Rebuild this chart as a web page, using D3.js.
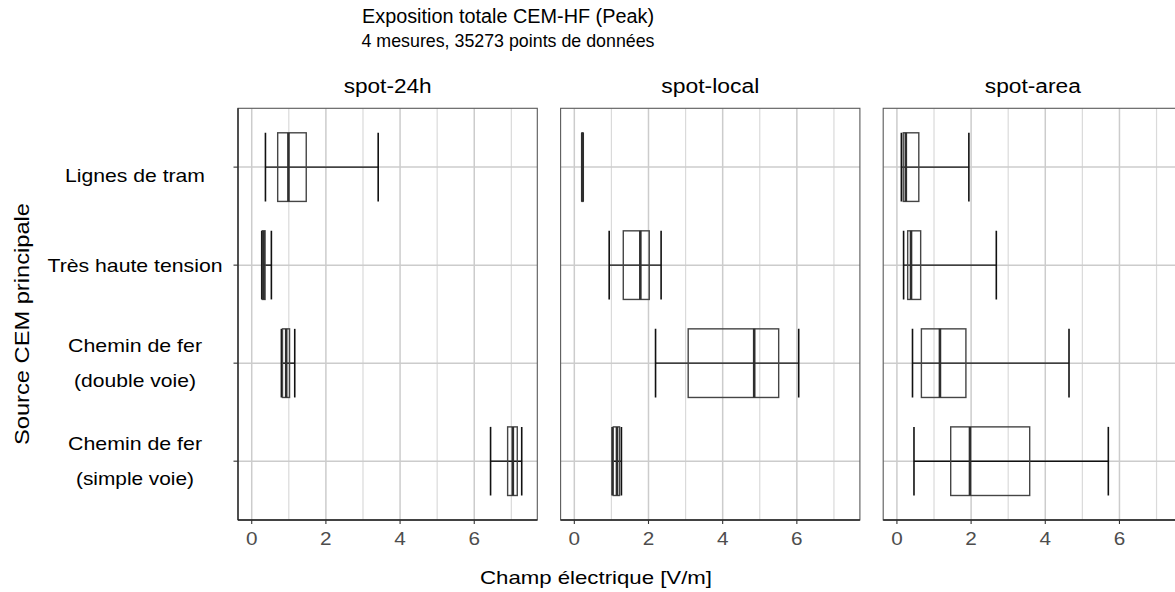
<!DOCTYPE html>
<html>
<head>
<meta charset="utf-8">
<script src="https://cdn.jsdelivr.net/npm/d3@7"></script>
<style>
  html, body { margin: 0; padding: 0; background: #fff; }
  svg { display: block; font-family: "Liberation Sans", Arial, sans-serif; }
</style>
</head>
<body>
<svg id="chart" width="1175" height="592"></svg>
<script>
// Categories (top to bottom), each label split into lines
const sources = ["Lignes de tram", "Très haute tension", "Chemin de fer (double voie)", "Chemin de fer (simple voie)"];
const sourceLines = [["Lignes de tram"], ["Très haute tension"], ["Chemin de fer", "(double voie)"], ["Chemin de fer", "(simple voie)"]];

// Facets
const facets = ["spot-24h", "spot-local", "spot-area"];

// Five-number summaries per source: [whisker low, Q1, median, Q3, whisker high] in V/m
const spot24h = [
  [0.37, 0.70, 0.99, 1.47, 3.41],
  [0.27, 0.29, 0.32, 0.36, 0.53],
  [0.80, 0.83, 0.93, 1.02, 1.16],
  [6.44, 6.90, 7.04, 7.16, 7.28]
];
const spotLocal = [
  [0.20, 0.21, 0.22, 0.23, 0.24],
  [0.94, 1.32, 1.78, 2.02, 2.34],
  [2.19, 3.07, 4.85, 5.51, 6.05],
  [1.02, 1.05, 1.15, 1.22, 1.27]
];
const spotArea = [
  [0.12, 0.17, 0.24, 0.59, 1.94],
  [0.18, 0.29, 0.38, 0.64, 2.68],
  [0.42, 0.66, 1.16, 1.86, 4.64],
  [0.46, 1.45, 1.97, 3.58, 5.70]
];
const facetValues = [spot24h, spotLocal, spotArea];

// Axis ticks
const majorTicks = [0, 2, 4, 6];
const minorTicks = [1, 3, 5, 7];

// Text
const titleText = "Exposition totale CEM-HF (Peak)";
const subtitleText = "4 mesures, 35273 points de données";
const xTitleText = "Champ électrique [V/m]";
const yTitleText = "Source CEM principale";

// ---- layout ----
const svg = d3.select("#chart");
const panelTop = 108.3, panelBottom = 520;
const panelW = 299.3, panelGap = 23.3, firstPanelX = 238;
const FONT = "'Liberation Sans', Arial, sans-serif";

const x = d3.scaleLinear().domain([-0.37, 7.70]).range([0, panelW]);
const y = d3.scalePoint().domain(sources).range([panelTop, panelBottom]).padding(0.6);
const boxH = y.step() * 0.7;

// text helper: stretched to a given drawn width when provided
function addText(parent, str, px, py, size, opts = {}) {
  const t = parent.append("text")
    .attr("x", px).attr("y", py)
    .attr("font-size", size)
    .attr("font-family", FONT)
    .attr("fill", opts.fill || "#000")
    .attr("text-anchor", opts.anchor || "middle")
    .text(str);
  if (opts.rotate) t.attr("transform", `rotate(${opts.rotate},${px},${py})`);
  if (opts.width) t.attr("textLength", opts.width).attr("lengthAdjust", "spacingAndGlyphs");
  else if (opts.stretch) {
    const w = t.node().getComputedTextLength();
    t.attr("textLength", w * opts.stretch).attr("lengthAdjust", "spacingAndGlyphs");
  }
  return t;
}

// Titles
const midX = 508;
addText(svg, titleText, midX, 23, 20, { width: 292 });
addText(svg, subtitleText, midX, 47, 19, { width: 293 });

const stripWidths = [88, 98, 96];

facets.forEach((facet, fi) => {
  const px = firstPanelX + fi * (panelW + panelGap);
  const g = svg.append("g").attr("transform", `translate(${px},0)`);
  const clipId = "clip" + fi;
  g.append("clipPath").attr("id", clipId)
    .append("rect").attr("x", 0).attr("y", panelTop).attr("width", panelW).attr("height", panelBottom - panelTop);
  const inner = g.append("g").attr("clip-path", `url(#${clipId})`);

  // minor vertical grid
  inner.selectAll("line.minor").data(minorTicks).join("line")
    .attr("x1", d => x(d)).attr("x2", d => x(d))
    .attr("y1", panelTop).attr("y2", panelBottom)
    .attr("stroke", "#dadada").attr("stroke-width", 1.2);
  // major vertical grid
  inner.selectAll("line.major").data(majorTicks).join("line")
    .attr("x1", d => x(d)).attr("x2", d => x(d))
    .attr("y1", panelTop).attr("y2", panelBottom)
    .attr("stroke", "#cccccc").attr("stroke-width", 1.5);
  // horizontal grid
  inner.selectAll("line.hgrid").data(sources).join("line")
    .attr("x1", 0).attr("x2", panelW)
    .attr("y1", d => y(d)).attr("y2", d => y(d))
    .attr("stroke", "#cccccc").attr("stroke-width", 1.5);

  // boxplots
  const vals = facetValues[fi];
  sources.forEach((s, si) => {
    const [lo, q1, med, q3, hi] = vals[si];
    const cy = y(s);
    const top = cy - boxH / 2, bot = cy + boxH / 2;
    const bg = inner.append("g");
    // whisker line across
    bg.append("line").attr("x1", x(lo)).attr("x2", x(hi)).attr("y1", cy).attr("y2", cy)
      .attr("stroke", "#111").attr("stroke-width", 1.4);
    // whisker caps
    [lo, hi].forEach(v => {
      bg.append("line").attr("x1", x(v)).attr("x2", x(v)).attr("y1", top).attr("y2", bot)
        .attr("stroke", "#111").attr("stroke-width", 1.6);
    });
    // box
    bg.append("rect").attr("x", x(q1)).attr("y", top)
      .attr("width", Math.max(0.01, x(q3) - x(q1))).attr("height", boxH)
      .attr("fill", "none").attr("stroke", "#454545").attr("stroke-width", 1.4);
    // median
    bg.append("line").attr("x1", x(med)).attr("x2", x(med)).attr("y1", top).attr("y2", bot)
      .attr("stroke", "#2e2e2e").attr("stroke-width", 2.6);
  });

  // panel border
  g.append("rect").attr("x", 0).attr("y", panelTop).attr("width", panelW).attr("height", panelBottom - panelTop)
    .attr("fill", "none").attr("stroke", "#5a5a5a").attr("stroke-width", 1.1);
  // bottom axis line
  g.append("line").attr("x1", 0).attr("x2", panelW).attr("y1", panelBottom).attr("y2", panelBottom)
    .attr("stroke", "#222").attr("stroke-width", 1.3);

  // x ticks and labels
  g.selectAll("line.xtick").data(majorTicks).join("line")
    .attr("x1", d => x(d)).attr("x2", d => x(d))
    .attr("y1", panelBottom).attr("y2", panelBottom + 4)
    .attr("stroke", "#333").attr("stroke-width", 1.1);
  majorTicks.forEach(t => addText(g, String(t), x(t), 545, 18.5, { fill: "#4d4d4d", stretch: 1.12 }));

  // strip label
  addText(g, facet, panelW / 2, 93, 19.5, { width: stripWidths[fi] });

  // y axis (first panel only)
  if (fi === 0) {
    g.append("line").attr("x1", 0).attr("x2", 0).attr("y1", panelTop).attr("y2", panelBottom)
      .attr("stroke", "#222").attr("stroke-width", 1.3);
    g.selectAll("line.ytick").data(sources).join("line")
      .attr("x1", -4.5).attr("x2", 0)
      .attr("y1", d => y(d)).attr("y2", d => y(d))
      .attr("stroke", "#333").attr("stroke-width", 1.1);
  }
});

// y category labels (centered block to the left of the first panel)
const labelCx = 135;
const lineGap = 35;
const labelWidths = { "Lignes de tram": 140, "Très haute tension": 175, "Chemin de fer": 134, "(double voie)": 122, "(simple voie)": 118 };
const firstLabelNudge = 8;
sourceLines.forEach((lines, i) => {
  const cy = y(sources[i]) + (i === 0 ? firstLabelNudge : 0);
  const n = lines.length;
  lines.forEach((ln, j) => {
    const by = cy + 6.5 + (j - (n - 1) / 2) * lineGap;
    addText(svg, ln, labelCx, by, 19, { width: labelWidths[ln] });
  });
});

// axis titles
addText(svg, xTitleText, 596, 584, 19, { width: 232 });
addText(svg, yTitleText, 29, 324, 21, { rotate: -90, width: 242 });
</script>
</body>
</html>
